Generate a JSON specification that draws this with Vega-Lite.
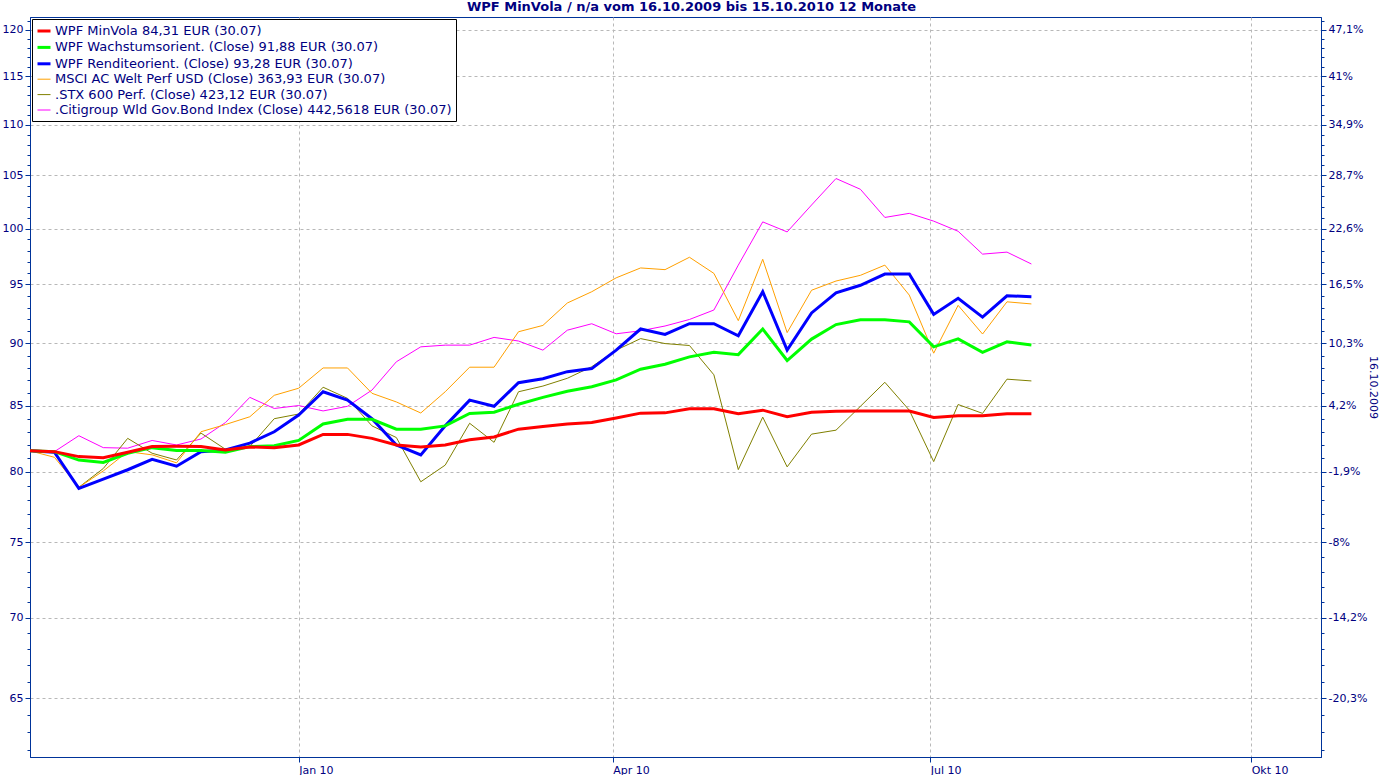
{
"$schema": "https://vega.github.io/schema/vega-lite/v6.json",
"width": 1291, "height": 740,
"autosize": "none",
"padding": {"left": 30, "top": 17, "right": 62, "bottom": 18},
"background": "white",
"title": {"text": "WPF MinVola / n/a vom 16.10.2009 bis 15.10.2010 12 Monate", "font": "DejaVu Sans", "fontSize": 13, "fontWeight": "bold", "color": "#000080", "anchor": "middle", "dx": 16, "offset": 1},
"datasets": {
"names": [
{"s": "r", "name": "WPF MinVola 84,31 EUR (30.07)"},
{"s": "g", "name": "WPF Wachstumsorient. (Close) 91,88 EUR (30.07)"},
{"s": "b", "name": "WPF Renditeorient. (Close) 93,28 EUR (30.07)"},
{"s": "o", "name": "MSCI AC Welt Perf USD (Close) 363,93 EUR (30.07)"},
{"s": "t", "name": ".STX 600 Perf. (Close) 423,12 EUR (30.07)"},
{"s": "m", "name": ".Citigroup Wld Gov.Bond Index (Close) 442,5618 EUR (30.07)"}
]
},
"data": {"values": [
{"d":"2009-10-16","s":"m","v":81.56},{"d":"2009-10-23","s":"m","v":81.5},{"d":"2009-10-30","s":"m","v":82.7},{"d":"2009-11-06","s":"m","v":81.8},{"d":"2009-11-13","s":"m","v":81.76},{"d":"2009-11-20","s":"m","v":82.34},{"d":"2009-11-27","s":"m","v":82.0},{"d":"2009-12-04","s":"m","v":82.45},{"d":"2009-12-11","s":"m","v":83.7},{"d":"2009-12-18","s":"m","v":85.66},{"d":"2009-12-25","s":"m","v":84.79},{"d":"2010-01-01","s":"m","v":85.02},{"d":"2010-01-08","s":"m","v":84.6},{"d":"2010-01-15","s":"m","v":84.96},{"d":"2010-01-22","s":"m","v":86.23},{"d":"2010-01-29","s":"m","v":88.5},{"d":"2010-02-05","s":"m","v":89.72},{"d":"2010-02-12","s":"m","v":89.86},{"d":"2010-02-19","s":"m","v":89.86},{"d":"2010-02-26","s":"m","v":90.5},{"d":"2010-03-05","s":"m","v":90.2},{"d":"2010-03-12","s":"m","v":89.45},{"d":"2010-03-19","s":"m","v":91.1},{"d":"2010-03-26","s":"m","v":91.64},{"d":"2010-04-02","s":"m","v":90.8},{"d":"2010-04-09","s":"m","v":91.05},{"d":"2010-04-16","s":"m","v":91.45},{"d":"2010-04-23","s":"m","v":92.0},{"d":"2010-04-30","s":"m","v":92.8},{"d":"2010-05-07","s":"m","v":96.7},{"d":"2010-05-14","s":"m","v":100.61},{"d":"2010-05-21","s":"m","v":99.69},{"d":"2010-05-28","s":"m","v":102.18},{"d":"2010-06-04","s":"m","v":104.69},{"d":"2010-06-11","s":"m","v":103.66},{"d":"2010-06-18","s":"m","v":101.02},{"d":"2010-06-25","s":"m","v":101.4},{"d":"2010-07-02","s":"m","v":100.68},{"d":"2010-07-09","s":"m","v":99.75},{"d":"2010-07-16","s":"m","v":97.68},{"d":"2010-07-23","s":"m","v":97.86},{"d":"2010-07-30","s":"m","v":96.8},
{"d":"2009-10-16","s":"t","v":81.56},{"d":"2009-10-23","s":"t","v":81.43},{"d":"2009-10-30","s":"t","v":78.88},{"d":"2009-11-06","s":"t","v":80.25},{"d":"2009-11-13","s":"t","v":82.5},{"d":"2009-11-20","s":"t","v":81.38},{"d":"2009-11-27","s":"t","v":80.88},{"d":"2009-12-04","s":"t","v":82.9},{"d":"2009-12-11","s":"t","v":81.68},{"d":"2009-12-18","s":"t","v":81.88},{"d":"2009-12-25","s":"t","v":84.0},{"d":"2010-01-01","s":"t","v":84.36},{"d":"2010-01-08","s":"t","v":86.46},{"d":"2010-01-15","s":"t","v":85.58},{"d":"2010-01-22","s":"t","v":83.45},{"d":"2010-01-29","s":"t","v":82.56},{"d":"2010-02-05","s":"t","v":79.28},{"d":"2010-02-12","s":"t","v":80.5},{"d":"2010-02-19","s":"t","v":83.65},{"d":"2010-02-26","s":"t","v":82.2},{"d":"2010-03-05","s":"t","v":86.1},{"d":"2010-03-12","s":"t","v":86.55},{"d":"2010-03-19","s":"t","v":87.17},{"d":"2010-03-26","s":"t","v":88.1},{"d":"2010-04-02","s":"t","v":89.45},{"d":"2010-04-09","s":"t","v":90.4},{"d":"2010-04-16","s":"t","v":89.99},{"d":"2010-04-23","s":"t","v":89.83},{"d":"2010-04-30","s":"t","v":87.45},{"d":"2010-05-07","s":"t","v":80.17},{"d":"2010-05-14","s":"t","v":84.12},{"d":"2010-05-21","s":"t","v":80.37},{"d":"2010-05-28","s":"t","v":82.82},{"d":"2010-06-04","s":"t","v":83.12},{"d":"2010-06-11","s":"t","v":84.96},{"d":"2010-06-18","s":"t","v":86.85},{"d":"2010-06-25","s":"t","v":84.66},{"d":"2010-07-02","s":"t","v":80.76},{"d":"2010-07-09","s":"t","v":85.1},{"d":"2010-07-16","s":"t","v":84.41},{"d":"2010-07-23","s":"t","v":87.1},{"d":"2010-07-30","s":"t","v":86.96},
{"d":"2009-10-16","s":"o","v":81.56},{"d":"2009-10-23","s":"o","v":81.08},{"d":"2009-10-30","s":"o","v":78.88},{"d":"2009-11-06","s":"o","v":80.07},{"d":"2009-11-13","s":"o","v":81.5},{"d":"2009-11-20","s":"o","v":81.26},{"d":"2009-11-27","s":"o","v":80.67},{"d":"2009-12-04","s":"o","v":83.0},{"d":"2009-12-11","s":"o","v":83.55},{"d":"2009-12-18","s":"o","v":84.15},{"d":"2009-12-25","s":"o","v":85.82},{"d":"2010-01-01","s":"o","v":86.38},{"d":"2010-01-08","s":"o","v":88.0},{"d":"2010-01-15","s":"o","v":88.0},{"d":"2010-01-22","s":"o","v":85.98},{"d":"2010-01-29","s":"o","v":85.3},{"d":"2010-02-05","s":"o","v":84.44},{"d":"2010-02-12","s":"o","v":86.1},{"d":"2010-02-19","s":"o","v":88.06},{"d":"2010-02-26","s":"o","v":88.06},{"d":"2010-03-05","s":"o","v":90.97},{"d":"2010-03-12","s":"o","v":91.5},{"d":"2010-03-19","s":"o","v":93.4},{"d":"2010-03-26","s":"o","v":94.37},{"d":"2010-04-02","s":"o","v":95.58},{"d":"2010-04-09","s":"o","v":96.45},{"d":"2010-04-16","s":"o","v":96.3},{"d":"2010-04-23","s":"o","v":97.4},{"d":"2010-04-30","s":"o","v":95.97},{"d":"2010-05-07","s":"o","v":91.9},{"d":"2010-05-14","s":"o","v":97.22},{"d":"2010-05-21","s":"o","v":90.9},{"d":"2010-05-28","s":"o","v":94.5},{"d":"2010-06-04","s":"o","v":95.3},{"d":"2010-06-11","s":"o","v":95.8},{"d":"2010-06-18","s":"o","v":96.7},{"d":"2010-06-25","s":"o","v":94.08},{"d":"2010-07-02","s":"o","v":89.2},{"d":"2010-07-09","s":"o","v":93.2},{"d":"2010-07-16","s":"o","v":90.78},{"d":"2010-07-23","s":"o","v":93.5},{"d":"2010-07-30","s":"o","v":93.32},
{"d":"2009-10-16","s":"b","v":81.56},{"d":"2009-10-23","s":"b","v":81.46},{"d":"2009-10-30","s":"b","v":78.8},{"d":"2009-11-06","s":"b","v":79.47},{"d":"2009-11-13","s":"b","v":80.16},{"d":"2009-11-20","s":"b","v":80.93},{"d":"2009-11-27","s":"b","v":80.42},{"d":"2009-12-04","s":"b","v":81.5},{"d":"2009-12-11","s":"b","v":81.63},{"d":"2009-12-18","s":"b","v":82.14},{"d":"2009-12-25","s":"b","v":83.0},{"d":"2010-01-01","s":"b","v":84.28},{"d":"2010-01-08","s":"b","v":86.1},{"d":"2010-01-15","s":"b","v":85.44},{"d":"2010-01-22","s":"b","v":84.0},{"d":"2010-01-29","s":"b","v":82.0},{"d":"2010-02-05","s":"b","v":81.25},{"d":"2010-02-12","s":"b","v":83.45},{"d":"2010-02-19","s":"b","v":85.44},{"d":"2010-02-26","s":"b","v":84.96},{"d":"2010-03-05","s":"b","v":86.82},{"d":"2010-03-12","s":"b","v":87.14},{"d":"2010-03-19","s":"b","v":87.7},{"d":"2010-03-26","s":"b","v":87.95},{"d":"2010-04-02","s":"b","v":89.45},{"d":"2010-04-09","s":"b","v":91.2},{"d":"2010-04-16","s":"b","v":90.75},{"d":"2010-04-23","s":"b","v":91.65},{"d":"2010-04-30","s":"b","v":91.65},{"d":"2010-05-07","s":"b","v":90.63},{"d":"2010-05-14","s":"b","v":94.37},{"d":"2010-05-21","s":"b","v":89.45},{"d":"2010-05-28","s":"b","v":92.55},{"d":"2010-06-04","s":"b","v":94.28},{"d":"2010-06-11","s":"b","v":94.93},{"d":"2010-06-18","s":"b","v":95.91},{"d":"2010-06-25","s":"b","v":95.91},{"d":"2010-07-02","s":"b","v":92.43},{"d":"2010-07-09","s":"b","v":93.8},{"d":"2010-07-16","s":"b","v":92.2},{"d":"2010-07-23","s":"b","v":94.02},{"d":"2010-07-30","s":"b","v":93.94},
{"d":"2009-10-16","s":"g","v":81.56},{"d":"2009-10-23","s":"g","v":81.5},{"d":"2009-10-30","s":"g","v":80.87},{"d":"2009-11-06","s":"g","v":80.7},{"d":"2009-11-13","s":"g","v":81.38},{"d":"2009-11-20","s":"g","v":81.8},{"d":"2009-11-27","s":"g","v":81.58},{"d":"2009-12-04","s":"g","v":81.58},{"d":"2009-12-11","s":"g","v":81.46},{"d":"2009-12-18","s":"g","v":81.88},{"d":"2009-12-25","s":"g","v":81.94},{"d":"2010-01-01","s":"g","v":82.34},{"d":"2010-01-08","s":"g","v":83.6},{"d":"2010-01-15","s":"g","v":83.95},{"d":"2010-01-22","s":"g","v":83.95},{"d":"2010-01-29","s":"g","v":83.2},{"d":"2010-02-05","s":"g","v":83.2},{"d":"2010-02-12","s":"g","v":83.45},{"d":"2010-02-19","s":"g","v":84.4},{"d":"2010-02-26","s":"g","v":84.5},{"d":"2010-03-05","s":"g","v":85.12},{"d":"2010-03-12","s":"g","v":85.66},{"d":"2010-03-19","s":"g","v":86.14},{"d":"2010-03-26","s":"g","v":86.5},{"d":"2010-04-02","s":"g","v":87.04},{"d":"2010-04-09","s":"g","v":87.9},{"d":"2010-04-16","s":"g","v":88.3},{"d":"2010-04-23","s":"g","v":88.9},{"d":"2010-04-30","s":"g","v":89.27},{"d":"2010-05-07","s":"g","v":89.08},{"d":"2010-05-14","s":"g","v":91.2},{"d":"2010-05-21","s":"g","v":88.6},{"d":"2010-05-28","s":"g","v":90.36},{"d":"2010-06-04","s":"g","v":91.57},{"d":"2010-06-11","s":"g","v":91.97},{"d":"2010-06-18","s":"g","v":91.97},{"d":"2010-06-25","s":"g","v":91.8},{"d":"2010-07-02","s":"g","v":89.72},{"d":"2010-07-09","s":"g","v":90.38},{"d":"2010-07-16","s":"g","v":89.27},{"d":"2010-07-23","s":"g","v":90.13},{"d":"2010-07-30","s":"g","v":89.88},
{"d":"2009-10-16","s":"r","v":81.56},{"d":"2009-10-23","s":"r","v":81.5},{"d":"2009-10-30","s":"r","v":81.13},{"d":"2009-11-06","s":"r","v":81.05},{"d":"2009-11-13","s":"r","v":81.45},{"d":"2009-11-20","s":"r","v":81.88},{"d":"2009-11-27","s":"r","v":81.9},{"d":"2009-12-04","s":"r","v":81.88},{"d":"2009-12-11","s":"r","v":81.63},{"d":"2009-12-18","s":"r","v":81.85},{"d":"2009-12-25","s":"r","v":81.8},{"d":"2010-01-01","s":"r","v":82.0},{"d":"2010-01-08","s":"r","v":82.8},{"d":"2010-01-15","s":"r","v":82.8},{"d":"2010-01-22","s":"r","v":82.5},{"d":"2010-01-29","s":"r","v":82.0},{"d":"2010-02-05","s":"r","v":81.84},{"d":"2010-02-12","s":"r","v":82.0},{"d":"2010-02-19","s":"r","v":82.4},{"d":"2010-02-26","s":"r","v":82.6},{"d":"2010-03-05","s":"r","v":83.2},{"d":"2010-03-12","s":"r","v":83.4},{"d":"2010-03-19","s":"r","v":83.6},{"d":"2010-03-26","s":"r","v":83.7},{"d":"2010-04-02","s":"r","v":84.05},{"d":"2010-04-09","s":"r","v":84.43},{"d":"2010-04-16","s":"r","v":84.45},{"d":"2010-04-23","s":"r","v":84.76},{"d":"2010-04-30","s":"r","v":84.76},{"d":"2010-05-07","s":"r","v":84.38},{"d":"2010-05-14","s":"r","v":84.66},{"d":"2010-05-21","s":"r","v":84.15},{"d":"2010-05-28","s":"r","v":84.5},{"d":"2010-06-04","s":"r","v":84.58},{"d":"2010-06-11","s":"r","v":84.6},{"d":"2010-06-18","s":"r","v":84.6},{"d":"2010-06-25","s":"r","v":84.6},{"d":"2010-07-02","s":"r","v":84.1},{"d":"2010-07-09","s":"r","v":84.23},{"d":"2010-07-16","s":"r","v":84.23},{"d":"2010-07-23","s":"r","v":84.38},{"d":"2010-07-30","s":"r","v":84.38}
]},
"transform": [{"lookup": "s", "from": {"data": {"name": "names"}, "key": "s", "fields": ["name"]}}],
"layer": [
{
"mark": {"type": "line", "interpolate": "linear"},
"encoding": {
"x": {"field": "d", "type": "temporal",
"scale": {"type": "utc", "domain": [{"year": 2009, "month": 10, "date": 16, "utc": true}, {"year": 2010, "month": 10, "date": 21, "utc": true}]},
"axis": {"title": null, "values": [{"year": 2010, "month": 1, "date": 1, "utc": true}, {"year": 2010, "month": 4, "date": 1, "utc": true}, {"year": 2010, "month": 7, "date": 1, "utc": true}, {"year": 2010, "month": 10, "date": 1, "utc": true}],
"labelExpr": "['Jan','Feb','Mrz','Apr','Mai','Jun','Jul','Aug','Sep','Okt','Nov','Dez'][utcmonth(datum.value)] + ' ' + utcFormat(datum.value, '%y')",
"labelAlign": "left", "labelFlush": false, "labelOverlap": false, "tickSize": 5, "labelPadding": 2, "grid": true}},
"y": {"field": "v", "type": "quantitative",
"scale": {"type": "log", "domain": [61.6, 121.4], "nice": false, "zero": false},
"axis": {"orient": "left", "title": null, "values": [62,63,64,65,66,67,68,69,70,71,72,73,74,75,76,77,78,79,80,81,82,83,84,85,86,87,88,89,90,91,92,93,94,95,96,97,98,99,100,101,102,103,104,105,106,107,108,109,110,111,112,113,114,115,116,117,118,119,120,121],
"labelExpr": "datum.value % 5 == 0 ? format(datum.value, 'd') : ''", "labelOverlap": false, "labelPadding": 2,
"tickSize": {"condition": {"test": "datum.value % 5 == 0", "value": 5}, "value": 3},
"grid": true,
"gridOpacity": {"condition": {"test": "datum.value % 5 == 0", "value": 1}, "value": 0}}},
"color": {"field": "name", "type": "nominal",
"scale": {"domain": ["WPF MinVola 84,31 EUR (30.07)", "WPF Wachstumsorient. (Close) 91,88 EUR (30.07)", "WPF Renditeorient. (Close) 93,28 EUR (30.07)", "MSCI AC Welt Perf USD (Close) 363,93 EUR (30.07)", ".STX 600 Perf. (Close) 423,12 EUR (30.07)", ".Citigroup Wld Gov.Bond Index (Close) 442,5618 EUR (30.07)"],
"range": ["#ff0000", "#00ff00", "#0000ff", "#ffa000", "#808000", "#ff00ff"]},
"legend": {"title": null}},
"strokeWidth": {"field": "name", "type": "nominal",
"scale": {"type": "ordinal", "domain": ["WPF MinVola 84,31 EUR (30.07)", "WPF Wachstumsorient. (Close) 91,88 EUR (30.07)", "WPF Renditeorient. (Close) 93,28 EUR (30.07)", "MSCI AC Welt Perf USD (Close) 363,93 EUR (30.07)", ".STX 600 Perf. (Close) 423,12 EUR (30.07)", ".Citigroup Wld Gov.Bond Index (Close) 442,5618 EUR (30.07)"],
"range": [3, 3, 3, 1, 1, 1]},
"legend": {"title": null}}
}
},
{
"mark": {"type": "point", "opacity": 0},
"encoding": {
"x": {"field": "d", "type": "temporal"},
"y": {"field": "v", "type": "quantitative",
"scale": {"type": "log", "domain": [61.6, 121.4], "nice": false, "zero": false},
"axis": {"orient": "right", "title": "16.10.2009", "values": [62,63,64,65,66,67,68,69,70,71,72,73,74,75,76,77,78,79,80,81,82,83,84,85,86,87,88,89,90,91,92,93,94,95,96,97,98,99,100,101,102,103,104,105,106,107,108,109,110,111,112,113,114,115,116,117,118,119,120,121],
"labelExpr": "datum.value % 5 == 0 ? replace(replace(replace(format(datum.value / 81.56 - 1, '.1%'), '.', ','), ',0%', '%'), '\u2212', '-') : ''",
"labelOverlap": false, "labelPadding": 2, "grid": false,
"tickSize": {"condition": {"test": "datum.value % 5 == 0", "value": 5}, "value": 3},
"titleFontWeight": "normal", "titlePadding": 1}}
}
}
],
"resolve": {"axis": {"y": "independent"}},
"config": {
"view": {"stroke": "#003399", "strokeWidth": 1},
"axis": {"domainColor": "#003399", "tickColor": "#003399", "labelColor": "#000080", "titleColor": "#000080", "labelFont": "DejaVu Sans", "titleFont": "DejaVu Sans", "labelFontSize": 11, "titleFontSize": 11, "gridColor": "#b8b8b8", "gridDash": [3, 3], "gridWidth": 1},
"legend": {"orient": "none", "legendX": 2, "legendY": 2, "strokeColor": "#000000", "fillColor": "#ffffff", "padding": 4, "labelFont": "DejaVu Sans", "labelFontSize": 13, "labelColor": "#000080", "symbolType": "stroke", "symbolSize": 169, "labelOffset": 3, "labelLimit": 0, "rowPadding": 1.4, "symbolOpacity": 1}
}
}
